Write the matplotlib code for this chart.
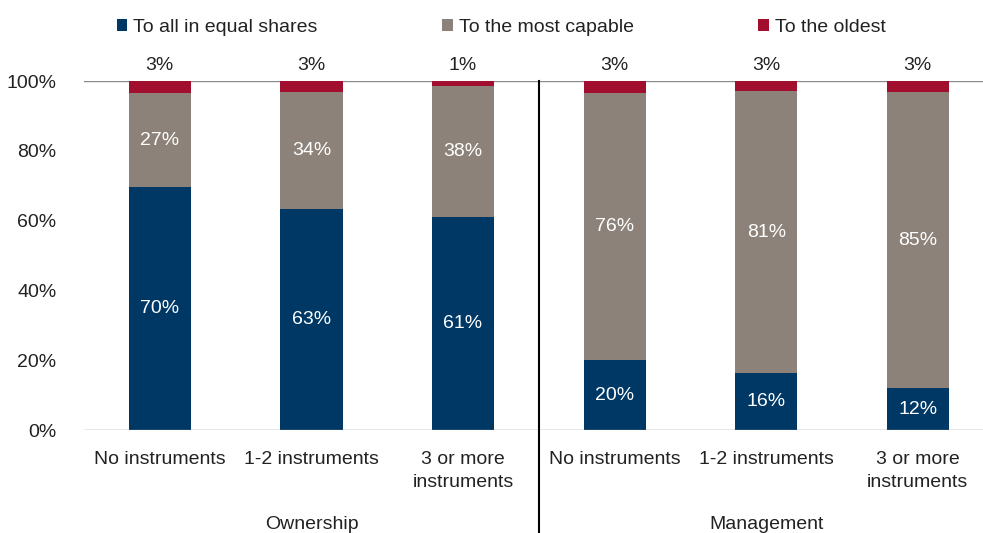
import numpy as np
import matplotlib.pyplot as plt
from matplotlib.lines import Line2D

plt.rcParams['font.family'] = ['Liberation Sans Narrow', 'Liberation Sans', 'DejaVu Sans']

# data (labels show the rounded values)
categories = ["No instruments", "1-2 instruments", "3 or more\ninstruments",
              "No instruments", "1-2 instruments", "3 or more\ninstruments"]
groups = ["Ownership", "Management"]
equal_shares = [69.6, 63.3, 61.0, 20.1, 16.3, 12.0]
most_capable = [27.0, 33.6, 37.6, 76.4, 80.8, 84.8]
oldest = [3.4, 3.1, 1.4, 3.4, 2.9, 3.2]
series_names = ["To all in equal shares", "To the most capable", "To the oldest"]
colors = ["#003865", "#8C8279", "#A10E2E"]

x = np.arange(len(categories))
eq = np.array(equal_shares) / 100
cap = np.array(most_capable) / 100
old = np.array(oldest) / 100

fig = plt.figure(figsize=(9.83, 5.33), dpi=100)
ax = fig.add_axes([0.0855, 0.193, 0.9145, 0.655])

w = 0.41
ax.bar(x, eq, w, color=colors[0], label=series_names[0])
ax.bar(x, cap, w, bottom=eq, color=colors[1], label=series_names[1])
ax.bar(x, old, w, bottom=eq + cap, color=colors[2], label=series_names[2])

# value labels
for i in range(len(x)):
    ax.text(x[i], eq[i] / 2, f"{equal_shares[i]:.0f}%", ha='center', va='center',
            color='white', fontsize=14)
    ax.text(x[i], eq[i] + cap[i] / 2, f"{most_capable[i]:.0f}%", ha='center', va='center',
            color='white', fontsize=14)
    ax.text(x[i], 1.045, f"{oldest[i]:.0f}%", ha='center', va='center',
            color='#222222', fontsize=14, clip_on=False)

ax.set_xlim(-0.5, 5.43)
ax.set_ylim(0, 1)
ax.set_yticks([0, 0.2, 0.4, 0.6, 0.8, 1.0])
ax.set_yticklabels(["0%", "20%", "40%", "60%", "80%", "100%"], fontsize=14, color='#222222')
ax.set_xticks(x)
ax.set_xticklabels(categories, fontsize=14, color='#222222', linespacing=1.45)
ax.tick_params(axis='both', length=0)
ax.tick_params(axis='y', pad=20)
ax.tick_params(axis='x', pad=15)
for s in ax.spines.values():
    s.set_visible(False)
ax.axhline(0, color='#8c8c8c', lw=1)
ax.axhline(1, color='#8c8c8c', lw=1, zorder=0)

# separator between groups
ax.add_line(Line2D([2.5, 2.5], [1.0, -0.32], color='black', lw=1.5, clip_on=False))

# group labels
ax.text(1, -0.27, groups[0], ha='center', va='center', fontsize=14, color='#222222')
ax.text(4, -0.27, groups[1], ha='center', va='center', fontsize=14, color='#222222')

fig.legend(loc='upper left', bbox_to_anchor=(0.101, 0.998), ncol=3, frameon=False,
           fontsize=14, handlelength=0.55, handleheight=0.55, handletextpad=0.3,
           columnspacing=6.4, labelcolor='#222222')

fig.savefig("out.png", dpi=100)
